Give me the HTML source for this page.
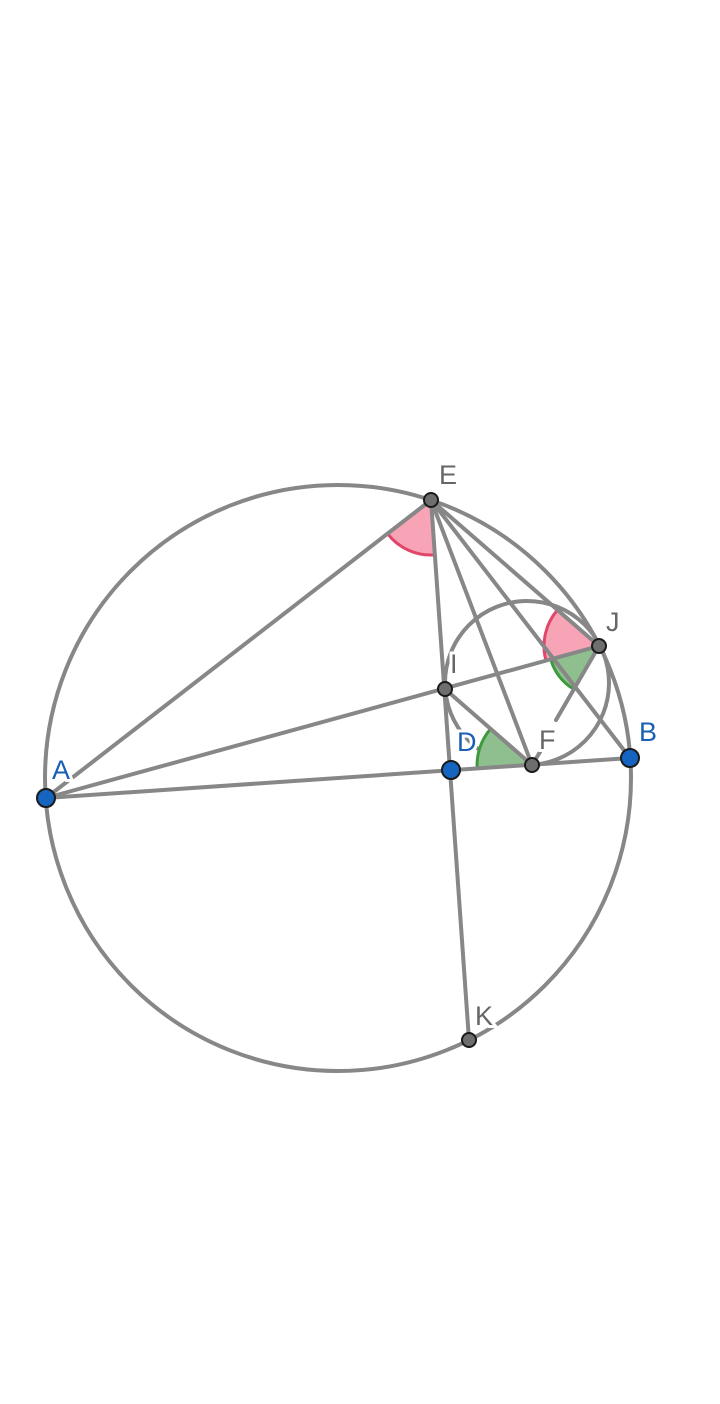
<!DOCTYPE html>
<html><head><meta charset="utf-8"><style>html,body{margin:0;padding:0;background:#fff}svg{display:block}</style></head>
<body>
<svg width="720" height="1404" viewBox="0 0 720 1404" xmlns="http://www.w3.org/2000/svg">
<g stroke="#878787" stroke-width="4" fill="none" stroke-linecap="round">
<circle cx="338" cy="778" r="293"/>
<circle cx="527" cy="683" r="82"/>
</g>
<path d="M431,500 L387.5,533.7 A55,55 0 0 0 434.9,554.9 Z" fill="#f7a4b6" stroke="none"/>
<path d="M387.5,533.7 A55,55 0 0 0 434.9,554.9" fill="none" stroke="#e0456a" stroke-width="3"/>
<path d="M599,646 L557.5,609.9 A55,55 0 0 0 546,660.6 Z" fill="#f7a4b6"/>
<path d="M557.5,609.9 A55,55 0 0 0 546,660.6" fill="none" stroke="#e0456a" stroke-width="3"/>
<path d="M599,646 L550.8,659.3 A50,50 0 0 0 574.5,689.6 Z" fill="#8fbf8f"/>
<path d="M550.8,659.3 A50,50 0 0 0 574.5,689.6" fill="none" stroke="#3c9a3c" stroke-width="3"/>
<path d="M532,765 L477.2,768.7 A55,55 0 0 1 490.6,728.8 Z" fill="#8fbf8f"/>
<path d="M477.2,768.7 A55,55 0 0 1 490.6,728.8" fill="none" stroke="#3c9a3c" stroke-width="3"/>
<g stroke="#878787" stroke-width="4" fill="none" stroke-linecap="round">
<line x1="46" y1="798" x2="431" y2="500"/>
<line x1="431" y1="500" x2="469" y2="1040"/>
<line x1="46" y1="798" x2="599" y2="646"/>
<line x1="46" y1="798" x2="630" y2="758"/>
<line x1="431" y1="500" x2="532" y2="765"/>
<line x1="431" y1="500" x2="599" y2="646"/>
<line x1="431" y1="500" x2="630" y2="758"/>
<line x1="445" y1="689" x2="532" y2="765"/>
<line x1="599" y1="646" x2="556" y2="720"/>
<line x1="540" y1="752" x2="532" y2="765"/>
</g>
<g font-family="Liberation Sans, sans-serif" font-size="27" paint-order="stroke" stroke="#fff" stroke-width="6">
<text x="439" y="484" fill="#666">E</text>
<text x="606" y="631" fill="#666">J</text>
<text x="450" y="673" fill="#666">I</text>
<text x="539" y="749" fill="#666">F</text>
<text x="475" y="1025" fill="#666">K</text>
<text x="639" y="741" fill="#1a5fb4">B</text>
<text x="52" y="779" fill="#1a5fb4">A</text>
<text x="457" y="751" fill="#1a5fb4">D</text>
</g>
<g stroke="#1a1a1a" stroke-width="2">
<circle cx="431" cy="500" r="7" fill="#6e6e6e"/>
<circle cx="599" cy="646" r="7" fill="#6e6e6e"/>
<circle cx="445" cy="689" r="7" fill="#6e6e6e"/>
<circle cx="532" cy="765" r="7" fill="#6e6e6e"/>
<circle cx="469" cy="1040" r="7" fill="#6e6e6e"/>
<circle cx="451" cy="770" r="9" fill="#1565c0"/>
<circle cx="630" cy="758" r="9" fill="#1565c0"/>
<circle cx="46" cy="798" r="9" fill="#1565c0"/>
</g>
</svg>
</body></html>
